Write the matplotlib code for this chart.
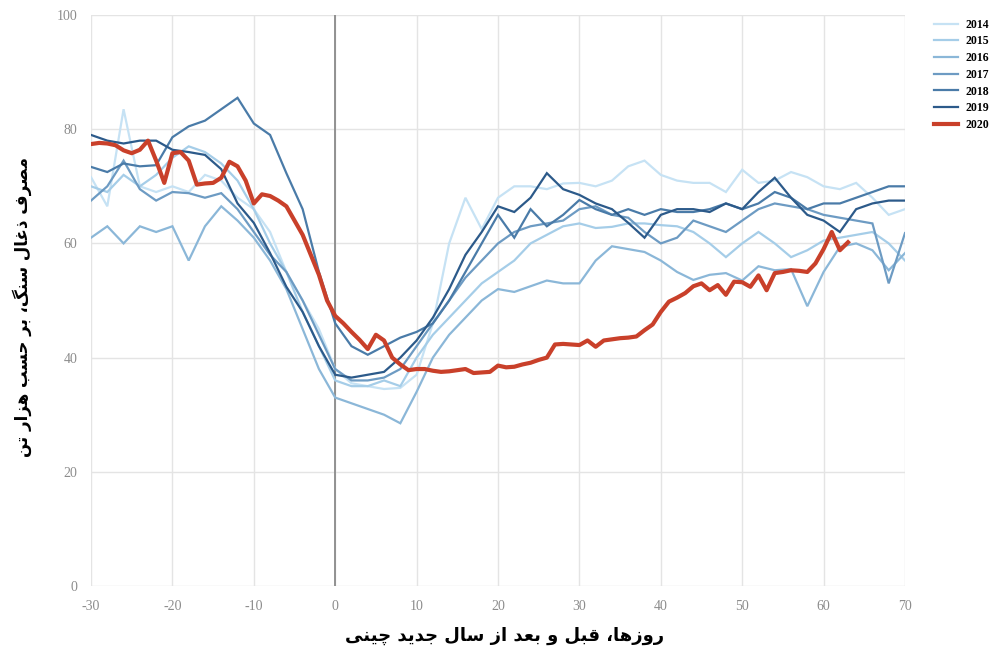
import matplotlib
matplotlib.use("Agg")
import matplotlib.pyplot as plt

plt.rcParams["axes.unicode_minus"] = False

# ---------------- data ----------------
days_hist = list(range(-30, 71, 2))

y_2014 = [71.6, 66.5, 83.5, 70, 69, 70, 69, 72, 71, 68, 66, 62, 55, 50, 45, 38,
          35.5, 35, 34.5, 34.7, 37, 46, 60, 68, 62.5, 68, 70, 70, 69.5, 70.5, 70.6,
          70, 71, 73.5, 74.5, 72, 71, 70.6, 70.6, 69, 72.9, 70.6, 71, 72.5, 71.6,
          70, 69.5, 70.6, 68, 65, 66]
y_2015 = [70, 69, 72, 70, 72, 75, 77, 76, 74, 71, 66, 60, 55, 48, 42, 36,
          35, 35, 36, 35, 40, 44, 47, 50, 53, 55, 57, 60, 61.5, 63, 63.5,
          62.7, 62.9, 63.5, 63.5, 63.2, 63, 62, 60, 57.6, 60, 62, 60, 57.6, 58.8,
          60.5, 61, 61.5, 62, 60, 57]
y_2016 = [61, 63, 60, 63, 62, 63, 57, 63, 66.5, 64, 61, 57, 52, 45, 38, 33,
          32, 31, 30, 28.5, 34, 40, 44, 47, 50, 52, 51.5, 52.5, 53.5, 53, 53,
          57, 59.5, 59, 58.5, 57, 55, 53.6, 54.5, 54.8, 53.5, 56, 55.3, 55.5, 49,
          55, 59.4, 60, 58.8, 55.3, 58.3]
y_2017 = [67.5, 70, 74.5, 69.5, 67.5, 69, 68.8, 68, 68.8, 66, 62, 58, 55, 50, 44, 38,
          36, 36, 36.5, 38, 42, 46, 50, 54, 57, 60, 62, 63, 63.5, 64, 66,
          66.5, 65, 64.5, 62, 60, 61, 64, 63, 62, 64, 66, 67, 66.5, 66,
          65, 64.5, 64, 63.5, 53, 61.8]
y_2018 = [73.4, 72.5, 74, 73.5, 73.7, 78.6, 80.5, 81.5, 83.5, 85.5, 81, 79, 72.3, 66, 55, 46,
          42, 40.5, 42, 43.5, 44.5, 46, 50, 55, 60, 65, 61, 66, 63, 65, 67.6,
          66, 65, 66, 65, 66, 65.5, 65.5, 66, 67, 66, 67, 69, 68, 66,
          67, 67, 68, 69, 70, 70]
y_2019 = [79, 78, 77.5, 78, 78, 76.4, 76, 75.5, 73, 67, 63.6, 58.3, 52.4, 48, 42, 37,
          36.5, 37, 37.5, 40, 43, 47, 52, 58, 62, 66.5, 65.5, 68, 72.3, 69.5, 68.5,
          67, 66, 63.6, 61, 65, 66, 66, 65.5, 67, 66, 69, 71.5, 68, 65,
          64, 62, 66, 67, 67.5, 67.5]

days_2020 = list(range(-30, 64))
y_2020 = [77.4, 77.6, 77.5, 77.2, 76.3, 75.8, 76.4, 78.0, 74.5, 70.6,
          75.8, 76.0, 74.5, 70.3, 70.5, 70.6, 71.5, 74.3, 73.5, 71.0,
          67.0, 68.6, 68.3, 67.5, 66.5, 64.0, 61.5, 58.0, 54.5, 50.0,
          47.3, 46.0, 44.5, 43.1, 41.5, 44.0, 43.0, 40.0, 38.8, 37.8,
          38.0, 38.0, 37.7, 37.5, 37.6, 37.8, 38.0, 37.3, 37.4, 37.5,
          38.6, 38.3, 38.4, 38.8, 39.1, 39.6, 40.0, 42.3, 42.4, 42.3,
          42.2, 43.0, 41.9, 43.0, 43.2, 43.4, 43.5, 43.7, 44.8, 45.8,
          48.0, 49.8, 50.5, 51.3, 52.5, 53.0, 51.8, 52.7, 51.0, 53.3,
          53.2, 52.4, 54.4, 51.8, 54.8, 55.0, 55.3, 55.2, 55.0, 56.5,
          59.0, 62.0, 58.8, 60.2]

years = ["2014", "2015", "2016", "2017", "2018", "2019"]
hist_values = [y_2014, y_2015, y_2016, y_2017, y_2018, y_2019]
x_ticks = [-30, -20, -10, 0, 10, 20, 30, 40, 50, 60, 70]
y_ticks = [0, 20, 40, 60, 80, 100]

x_label = "روزها، قبل و بعد از سال جدید چینی"
y_label = "مصرف ذغال سنگ، بر حسب هزار تن"

# ---------------- minimal Persian shaping ----------------
FORMS = {
    '\u0627': ('\uFE8D', '\uFE8E', None, None),
    '\u0628': ('\uFE8F', '\uFE90', '\uFE91', '\uFE92'),
    '\u062A': ('\uFE95', '\uFE96', '\uFE97', '\uFE98'),
    '\u062C': ('\uFE9D', '\uFE9E', '\uFE9F', '\uFEA0'),
    '\u062D': ('\uFEA1', '\uFEA2', '\uFEA3', '\uFEA4'),
    '\u062F': ('\uFEA9', '\uFEAA', None, None),
    '\u0630': ('\uFEAB', '\uFEAC', None, None),
    '\u0631': ('\uFEAD', '\uFEAE', None, None),
    '\u0632': ('\uFEAF', '\uFEB0', None, None),
    '\u0633': ('\uFEB1', '\uFEB2', '\uFEB3', '\uFEB4'),
    '\u0635': ('\uFEB9', '\uFEBA', '\uFEBB', '\uFEBC'),
    '\u0639': ('\uFEC9', '\uFECA', '\uFECB', '\uFECC'),
    '\u063A': ('\uFECD', '\uFECE', '\uFECF', '\uFED0'),
    '\u0641': ('\uFED1', '\uFED2', '\uFED3', '\uFED4'),
    '\u0642': ('\uFED5', '\uFED6', '\uFED7', '\uFED8'),
    '\u0644': ('\uFEDD', '\uFEDE', '\uFEDF', '\uFEE0'),
    '\u0645': ('\uFEE1', '\uFEE2', '\uFEE3', '\uFEE4'),
    '\u0646': ('\uFEE5', '\uFEE6', '\uFEE7', '\uFEE8'),
    '\u0647': ('\uFEE9', '\uFEEA', '\uFEEB', '\uFEEC'),
    '\u0648': ('\uFEED', '\uFEEE', None, None),
    '\u06CC': ('\uFBFC', '\uFBFD', '\uFBFE', '\uFBFF'),
    '\u06AF': ('\uFB92', '\uFB93', '\uFB94', '\uFB95'),
    '\u0686': ('\uFB7A', '\uFB7B', '\uFB7C', '\uFB7D'),
}


def shape_rtl(text):
    chars = list(text)
    out = []
    for i, c in enumerate(chars):
        if c not in FORMS:
            out.append(c)
            continue
        prev = chars[i - 1] if i > 0 else None
        nxt = chars[i + 1] if i + 1 < len(chars) else None
        cp = prev in FORMS and FORMS[prev][2] is not None
        cn = nxt in FORMS and FORMS[c][2] is not None
        iso, fin, ini, med = FORMS[c]
        if cp and cn:
            g = med
        elif cp:
            g = fin
        elif cn:
            g = ini
        else:
            g = iso
        out.append(g)
    return ''.join(reversed(out))


# ---------------- plot ----------------
colors = ["#c6e2f4", "#a5cde8", "#8bb7d8", "#6d9bc3", "#4a7ba8", "#2c5a8a"]
red = "#c9402a"

fig = plt.figure(figsize=(9.98, 6.53), dpi=100)
ax = fig.add_axes([0.0912, 0.1026, 0.8156, 0.8744])

for yr, vals, col in zip(years, hist_values, colors):
    ax.plot(days_hist, vals, color=col, lw=1.6, label=yr, solid_joinstyle="miter")
ax.plot(days_2020, y_2020, color=red, lw=3.0, label="2020")

ax.set_xlim(-30, 70)
ax.set_ylim(0, 100)
ax.set_xticks(x_ticks)
ax.set_yticks(y_ticks)
ax.grid(True, color="#e4e4e4", lw=1.0)
ax.set_axisbelow(True)
ax.axvline(0, color="#8a8a8a", lw=1.3, zorder=1)
for s in ax.spines.values():
    s.set_visible(False)
ax.tick_params(length=0, labelsize=10, labelcolor="#8c8c8c", pad=10)
for lab in ax.get_xticklabels() + ax.get_yticklabels():
    lab.set_fontfamily("Liberation Serif")

leg = fig.legend(loc="upper left", bbox_to_anchor=(0.934, 0.975), frameon=False,
                 prop={"family": "Liberation Serif", "weight": "bold", "size": 8.5},
                 handlelength=2.0, handletextpad=0.6, labelspacing=0.4,
                 borderaxespad=0, borderpad=0.2)

fig.text(0.506, 0.026, shape_rtl(x_label), ha="center", va="center",
         fontsize=13, fontweight="bold", family=["DejaVu Sans"])
fig.text(0.022, 0.53, shape_rtl(y_label), ha="center", va="center",
         rotation=90, fontsize=12, fontweight="bold", family=["DejaVu Sans"])

fig.savefig("out.png", dpi=100)
